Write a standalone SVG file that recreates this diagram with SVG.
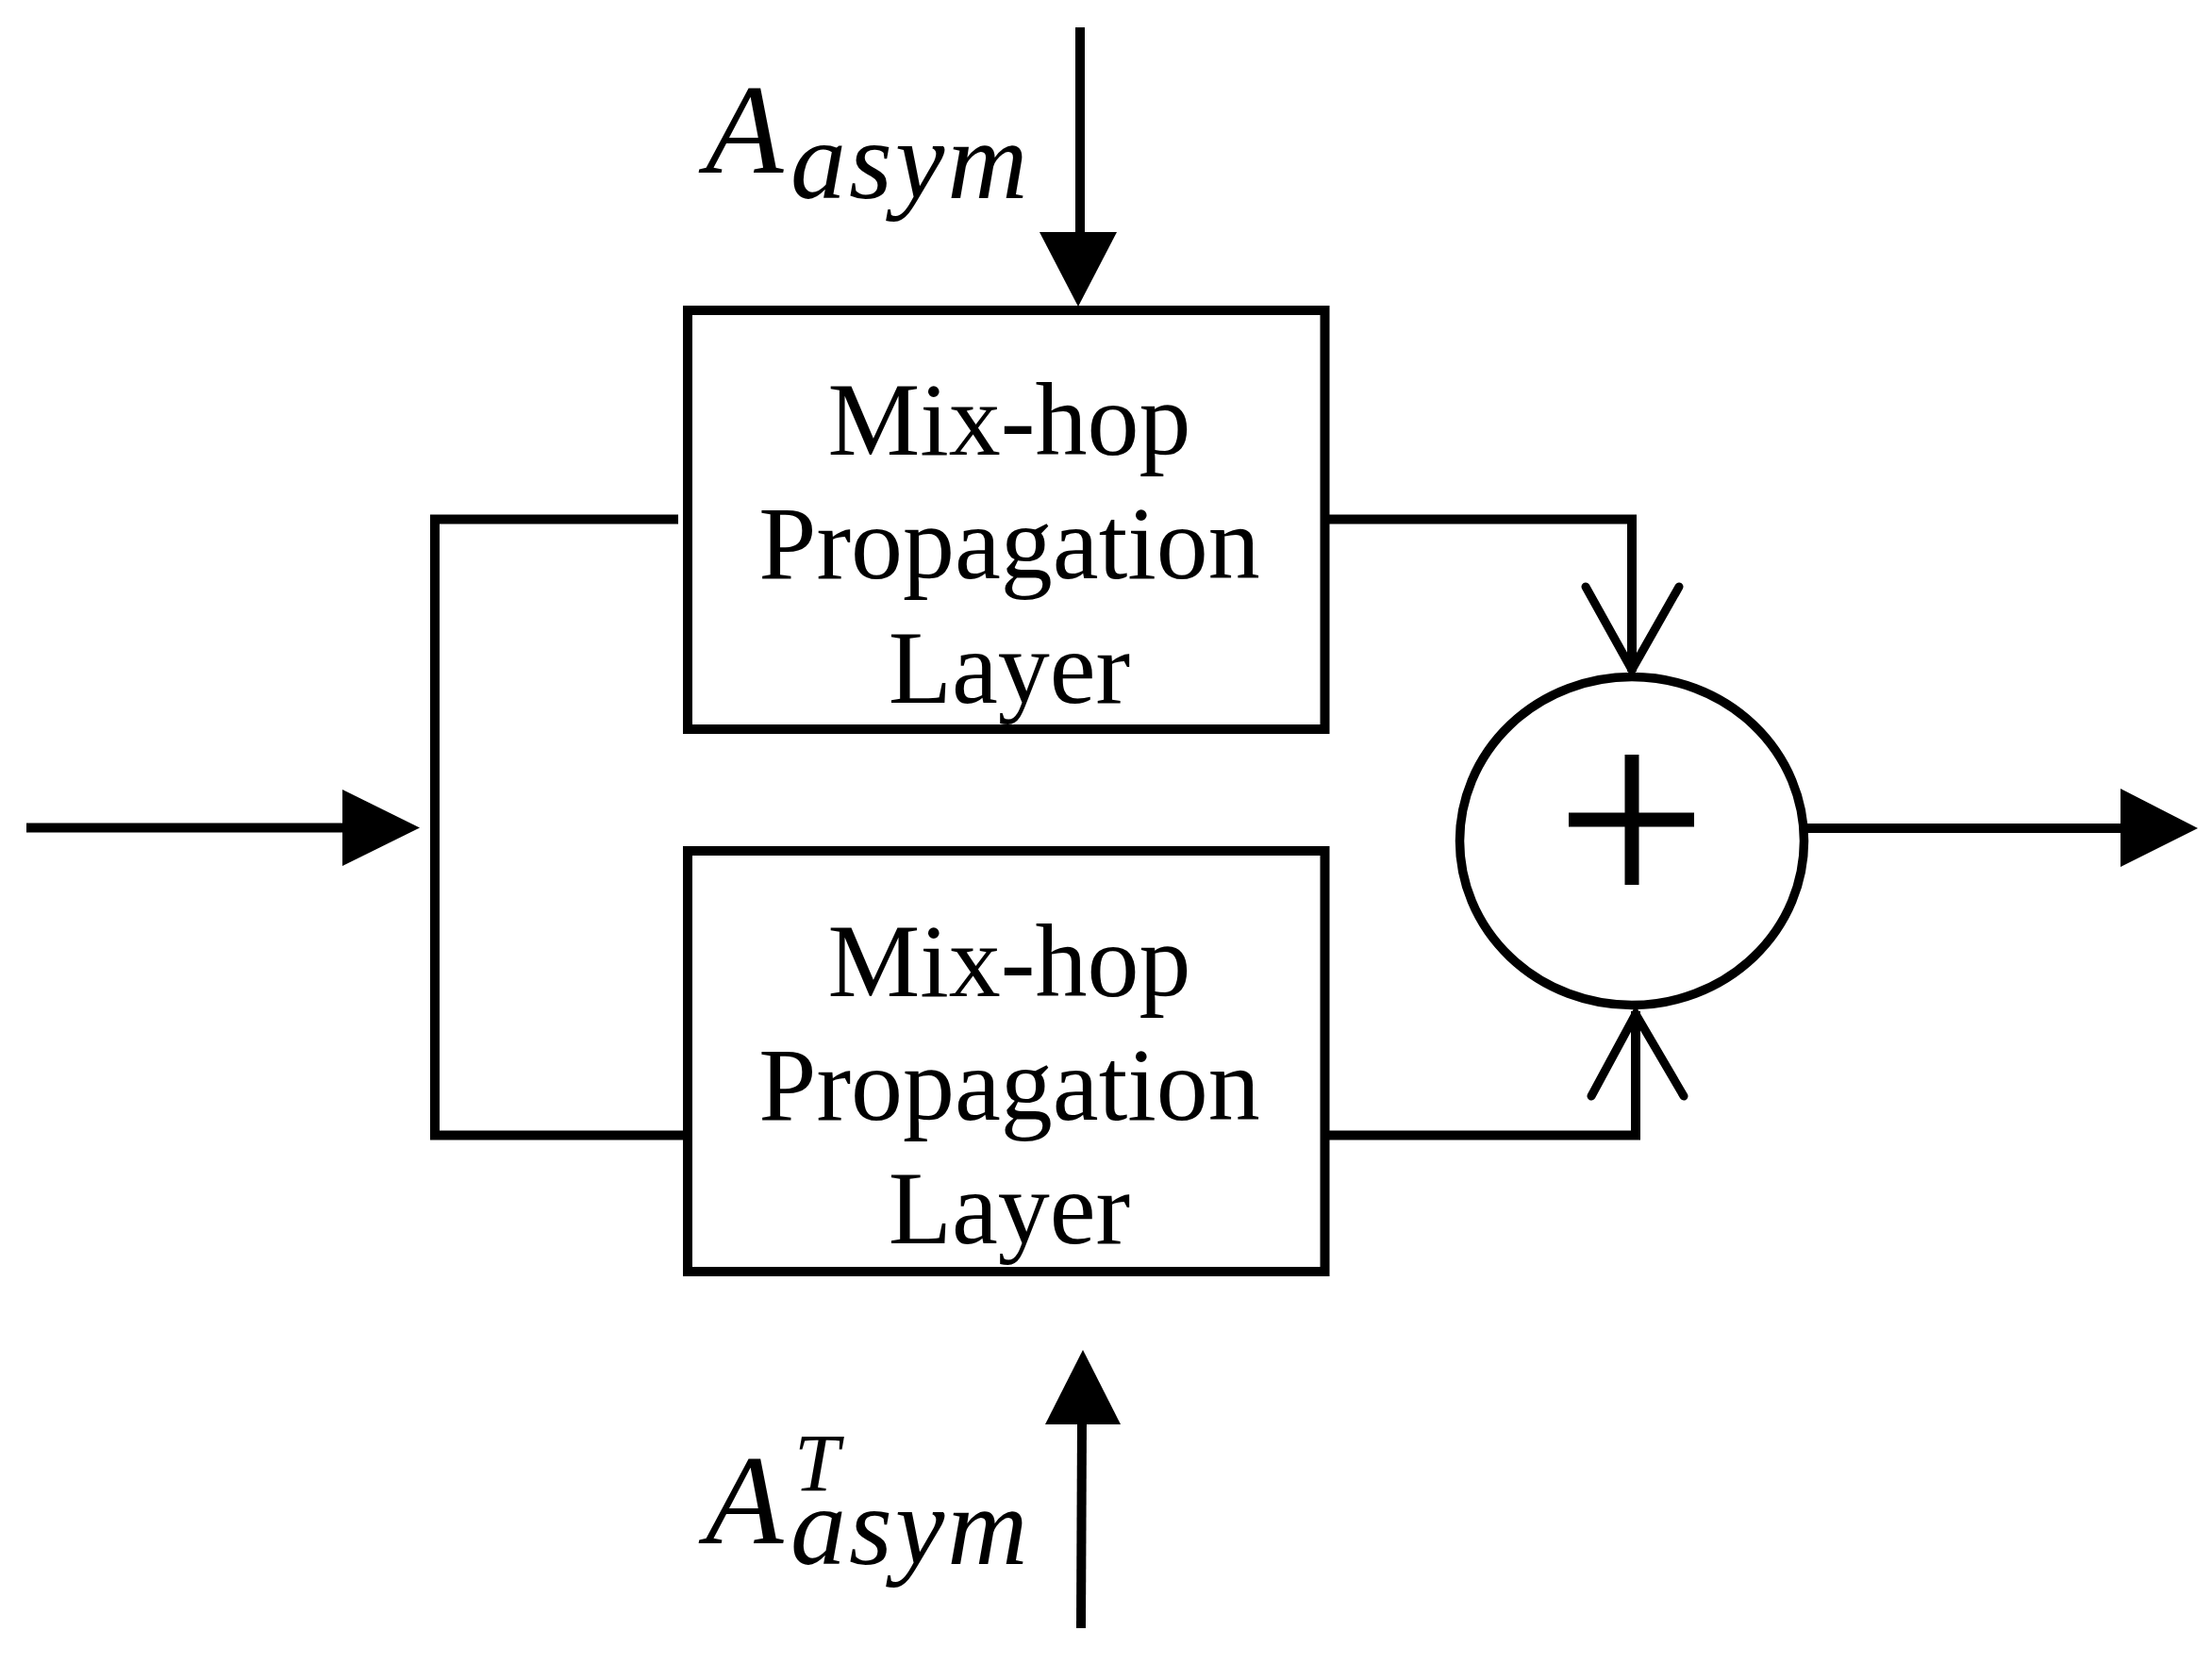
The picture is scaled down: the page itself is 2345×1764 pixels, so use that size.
<svg xmlns="http://www.w3.org/2000/svg" width="2345" height="1764" viewBox="0 0 2345 1764">
<style>
.ln{fill:none;stroke:#000;stroke-width:10;stroke-linecap:butt;stroke-linejoin:miter}
.open{fill:none;stroke:#000;stroke-width:9;stroke-linecap:round;stroke-linejoin:miter}
.box{fill:#fff;stroke:#000;stroke-width:10}
.head{fill:#000;stroke:none}
.lbl{font-family:"Liberation Serif","Times New Roman",serif;font-size:110px;fill:#000;text-anchor:middle}
.math{font-family:"Liberation Serif","Times New Roman",serif;font-style:italic;fill:#000}
</style>
<rect width="2345" height="1764" fill="#fff"/>
<g id="connectors">
  <!-- input -->
  <line class="ln" x1="28" y1="877.5" x2="366" y2="877.5"/>
  <polygon class="head" points="363,837 445,877.5 363,918"/>
  <!-- split -->
  <polyline class="ln" points="719,550.5 461,550.5 461,1203.5 729,1203.5"/>
  <!-- top box to sum -->
  <polyline class="ln" points="1404,550.5 1730,550.5 1730,712"/>
  <polyline class="open" points="1681,622 1730,710 1780,622"/>
  <!-- bottom box to sum -->
  <polyline class="ln" points="1404,1203.5 1734,1203.5 1734,1072"/>
  <polyline class="open" points="1687,1162 1734,1075 1785,1162"/>
  <!-- output -->
  <line class="ln" x1="1912" y1="878" x2="2251" y2="878"/>
  <polygon class="head" points="2248,836 2330,878 2248,919"/>
  <!-- A_asym arrow -->
  <line class="ln" x1="1145" y1="29" x2="1145" y2="250"/>
  <polygon class="head" points="1102,246 1184,246 1143,325"/>
  <!-- A^T_asym arrow -->
  <line class="ln" x1="1147" y1="1506" x2="1146" y2="1726"/>
  <polygon class="head" points="1108,1510 1188,1510 1148,1431"/>
</g>
<g id="node-top">
  <rect class="box" x="729" y="329" width="675.5" height="444"/>
  <text class="lbl" x="1070" y="482">Mix-hop</text>
  <text class="lbl" x="1070" y="613">Propagation</text>
  <text class="lbl" x="1070" y="745">Layer</text>
</g>
<g id="node-bottom">
  <rect class="box" x="729" y="902" width="675.5" height="446"/>
  <text class="lbl" x="1070" y="1056">Mix-hop</text>
  <text class="lbl" x="1070" y="1187">Propagation</text>
  <text class="lbl" x="1070" y="1318">Layer</text>
</g>
<g id="node-sum">
  <ellipse cx="1730" cy="891.5" rx="182.5" ry="174" fill="#fff" stroke="#000" stroke-width="9.5"/>
  <line x1="1663" y1="869" x2="1796" y2="869" stroke="#000" stroke-width="15"/>
  <line x1="1730" y1="800" x2="1730" y2="938" stroke="#000" stroke-width="15"/>
</g>
<g id="label-a">
  <text class="math"><tspan x="748" y="183" font-size="135">A</tspan><tspan x="838" y="210" font-size="118" letter-spacing="3">asym</tspan></text>
</g>
<g id="label-at">
  <text class="math"><tspan x="748" y="1636" font-size="135">A</tspan><tspan x="842" y="1580" font-size="86">T</tspan><tspan x="838" y="1658" font-size="118" letter-spacing="3">asym</tspan></text>
</g>
</svg>
